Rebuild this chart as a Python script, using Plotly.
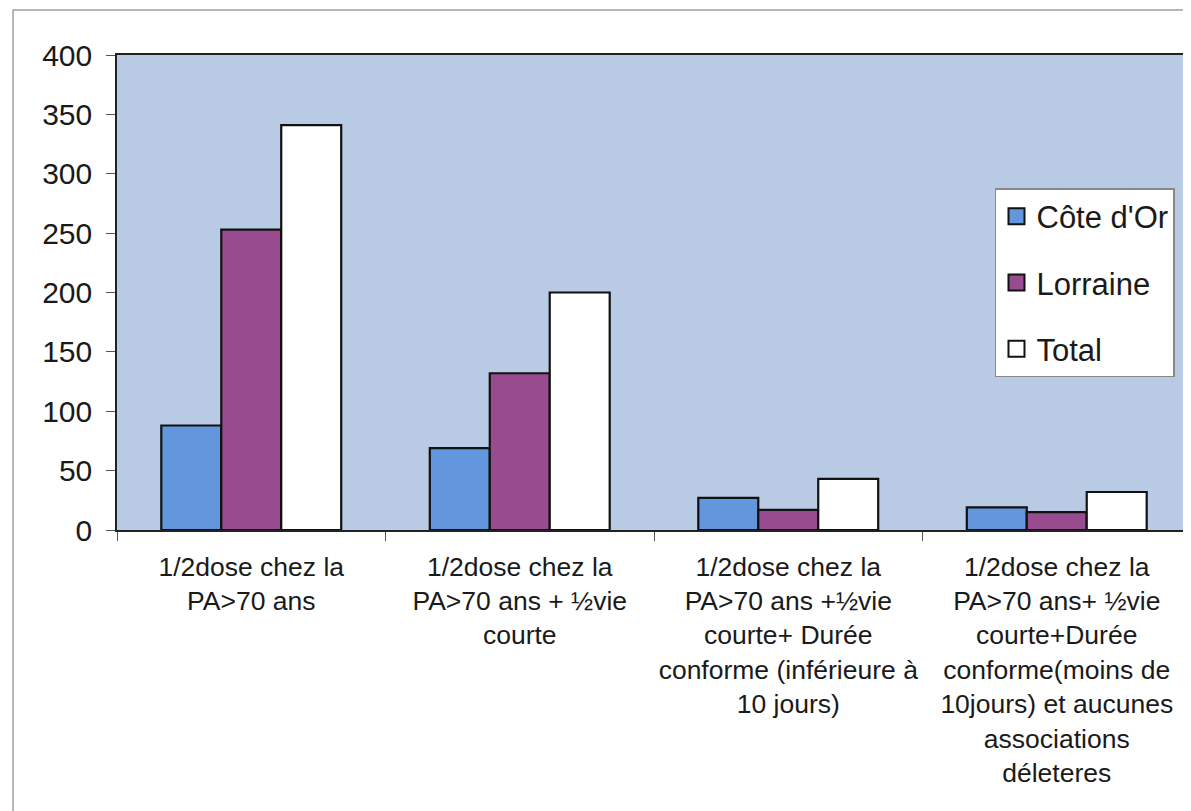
import plotly.graph_objects as go

categories = [
    "1/2dose chez la<br>PA>70 ans",
    "1/2dose chez la<br>PA>70 ans + ½vie<br>courte",
    "1/2dose chez la<br>PA>70 ans +½vie<br>courte+ Durée<br>conforme (inférieure à<br>10 jours)",
    "1/2dose chez la<br>PA>70 ans+ ½vie<br>courte+Durée<br>conforme(moins de<br>10jours) et aucunes<br>associations<br>déleteres",
]
cote_dor = [88, 69, 27, 19]
lorraine = [253, 132, 17, 15]
total = [341, 200, 43, 32]

series_names = ["Côte d'Or", "Lorraine", "Total"]
series_values = [cote_dor, lorraine, total]
series_colors = ["#6397dd", "#984c8f", "#ffffff"]

fig = go.Figure()
for name, vals, col in zip(series_names, series_values, series_colors):
    fig.add_trace(go.Bar(
        x=categories, y=vals, name=name, showlegend=False,
        marker=dict(color=col, line=dict(color="#111111", width=2.2)),
    ))
# legend entries with larger square symbols
for i, (name, col) in enumerate(zip(series_names, series_colors)):
    fig.add_trace(go.Scatter(
        x=[None], y=[None], mode="markers", name=name, legendgroup=f"g{i}",
        marker=dict(symbol="square", size=16, color=col, line=dict(color="#111111", width=2)),
    ))

fig.update_layout(
    width=1183, height=803,
    margin=dict(l=109, r=0, t=47, b=281),
    paper_bgcolor="white",
    plot_bgcolor="#b9cae4",
    barmode="group", bargap=0.33, bargroupgap=0,
    font=dict(family="Liberation Sans, Arial, sans-serif", color="#1a1a1a"),
    legend=dict(
        x=0.8175, y=0.72, xanchor="left", yanchor="top",
        bgcolor="white", bordercolor="#888888", borderwidth=1.5,
        font=dict(size=31, color="#1a1a1a"),
        tracegroupgap=23, itemsizing="trace",
    ),
    showlegend=True,
    shapes=[dict(type="rect", xref="paper", yref="paper",
                 x0=-0.0968, x1=1.2, y0=-1.0, y1=1.0947,
                 line=dict(color="#a0a0a0", width=1.5), layer="below")],
)
fig.update_xaxes(
    type="category", showline=True, linecolor="#222222", linewidth=1.5, mirror=True,
    ticks="outside", tickson="boundaries", ticklen=9, tickcolor="#555555",
    ticklabelstandoff=12,
    tickfont=dict(size=26.5, color="#1a1a1a"), showgrid=False, tickangle=0,
)
fig.update_yaxes(
    range=[0, 400], dtick=50, showline=True, linecolor="#222222", linewidth=1.5,
    ticks="outside", ticklen=9, tickcolor="#555555", ticklabelstandoff=8,
    tickfont=dict(size=30, color="#1a1a1a"), showgrid=False, zeroline=False,
)

fig.write_html("out.html")
